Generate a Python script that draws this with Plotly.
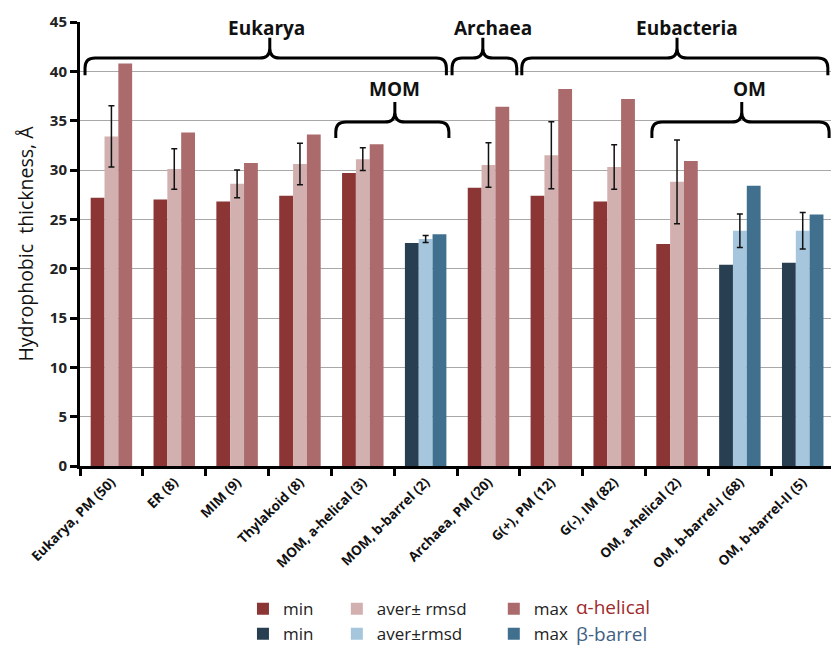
import plotly.graph_objects as go

categories = ["Eukarya, PM (50)", "ER (8)", "MIM (9)", "Thylakoid (8)", "MOM, a-helical (3)",
              "MOM, b-barrel (2)", "Archaea, PM (20)", "G(+), PM (12)", "G(-), IM (82)",
              "OM, a-helical (2)", "OM, b-barrel-I (68)", "OM, b-barrel-II (5)"]
fold = ["a", "a", "a", "a", "a", "b", "a", "a", "a", "a", "b", "b"]
min_vals = [27.2, 27.0, 26.8, 27.4, 29.7, 22.6, 28.2, 27.4, 26.8, 22.5, 20.4, 20.6]
aver_vals = [33.4, 30.1, 28.6, 30.6, 31.1, 23.0, 30.5, 31.5, 30.3, 28.8, 23.85, 23.85]
rmsd_vals = [3.1, 2.05, 1.4, 2.1, 1.15, 0.35, 2.25, 3.4, 2.25, 4.25, 1.7, 1.85]
max_vals = [40.8, 33.8, 30.7, 33.6, 32.6, 23.5, 36.4, 38.2, 37.2, 30.9, 28.4, 25.5]

# braces in category/value units
brace_labels = ["Eukarya", "Archaea", "Eubacteria", "MOM", "OM"]
brace_x0 = [-0.42, 5.42, 6.53, 3.57, 8.60]
brace_x1 = [5.33, 6.45, 11.40, 5.37, 11.42]
brace_xm = [2.52, 5.91, 9.00, 4.51, 10.03]
brace_lx = [2.47, 6.07, 9.16, 4.51, 10.15]
brace_line = [41.35, 41.35, 41.35, 34.86, 34.86]
brace_end = [39.6, 39.6, 39.6, 33.24, 33.24]
brace_cusp = [43.4, 43.4, 43.4, 36.9, 36.9]
brace_ly = [44.4, 44.4, 44.4, 38.2, 38.2]

colors = {
    "a": ["#8B3535", "#D2B0AF", "#AB6B6C"],
    "b": ["#283F52", "#A5C6DD", "#41708F"],
}
aver_names = {"a": "aver\u00b1 rmsd", "b": "aver\u00b1rmsd"}

XR = [-0.5, 11.45]
YR = [0, 45]

def px_(c):
    return (c - XR[0]) / (XR[1] - XR[0])

def py_(v):
    return (v - YR[0]) / (YR[1] - YR[0])

fig = go.Figure()
legend_ids = ["legend", "legend2", "legend3"]
for f in ["a", "b"]:
    mask = [t == f for t in fold]
    def sel(vals):
        return [v if m else None for v, m in zip(vals, mask)]
    fig.add_trace(go.Bar(x=categories, y=sel(min_vals), name="min", offsetgroup="min",
                         marker=dict(color=colors[f][0], line=dict(width=0)),
                         legend=legend_ids[0]))
    fig.add_trace(go.Bar(x=categories, y=sel(aver_vals), name=aver_names[f], offsetgroup="aver",
                         marker=dict(color=colors[f][1], line=dict(width=0)),
                         error_y=dict(type="data", array=sel(rmsd_vals), visible=True,
                                      color="#111111", thickness=1.5, width=3),
                         legend=legend_ids[1]))
    fig.add_trace(go.Bar(x=categories, y=sel(max_vals), name="max", offsetgroup="max",
                         marker=dict(color=colors[f][2], line=dict(width=0)),
                         legend=legend_ids[2]))

shapes = []
annotations = []
rx_c = 0.16
ry_v = 1.0
for lab, x0, x1, xm, lx, yl, ye, yc, ly in zip(brace_labels, brace_x0, brace_x1, brace_xm,
                                                 brace_lx, brace_line, brace_end, brace_cusp, brace_ly):
    X = lambda c: f"{px_(c):.5f}"
    Y = lambda v: f"{py_(v):.5f}"
    path = (f"M{X(x0)},{Y(ye)} L{X(x0)},{Y(yl - ry_v)} Q{X(x0)},{Y(yl)} {X(x0 + rx_c)},{Y(yl)} "
            f"L{X(xm - rx_c)},{Y(yl)} Q{X(xm)},{Y(yl)} {X(xm)},{Y(yl + ry_v)} L{X(xm)},{Y(yc)} "
            f"M{X(xm)},{Y(yl + ry_v)} Q{X(xm)},{Y(yl)} {X(xm + rx_c)},{Y(yl)} "
            f"L{X(x1 - rx_c)},{Y(yl)} Q{X(x1)},{Y(yl)} {X(x1)},{Y(yl - ry_v)} L{X(x1)},{Y(ye)}")
    shapes.append(dict(type="path", path=path, xref="paper", yref="paper",
                       line=dict(color="black", width=3)))
    annotations.append(dict(text=lab, x=px_(lx), y=py_(ly), xref="paper", yref="paper",
                            showarrow=False, xanchor="center", yanchor="middle",
                            font=dict(family="Open Sans", size=19, color="#111111", weight="bold")))

annotations.append(dict(text="\u03b1-helical", x=0.658, y=-0.318, xref="paper", yref="paper",
                        showarrow=False, xanchor="left", yanchor="middle",
                        font=dict(family="Open Sans", size=19, color="#9E2A2B")))
annotations.append(dict(text="\u03b2-barrel", x=0.658, y=-0.378, xref="paper", yref="paper",
                        showarrow=False, xanchor="left", yanchor="middle",
                        font=dict(family="Open Sans", size=19, color="#3F6185")))

leg_common = dict(orientation="v", yanchor="top", xanchor="left", bgcolor="rgba(0,0,0,0)",
                  font=dict(family="Open Sans", size=17, color="#222222"),
                  tracegroupgap=0, itemclick=False, itemdoubleclick=False)

fig.update_layout(
    width=831, height=646,
    margin=dict(l=80, r=0, t=22, b=180, autoexpand=False),
    paper_bgcolor="white", plot_bgcolor="white",
    barmode="group", bargap=0.34, bargroupgap=0,
    showlegend=True,
    legend=dict(x=0.217, y=-0.282, **leg_common),
    legend2=dict(x=0.342, y=-0.282, **leg_common),
    legend3=dict(x=0.551, y=-0.282, **leg_common),
    shapes=shapes,
    annotations=annotations,
    xaxis=dict(type="category", range=XR, tickson="boundaries", ticks="outside",
               ticklen=7, tickwidth=2.5, tickcolor="black", showline=True, linewidth=3,
               linecolor="black", showgrid=False, tickangle=-45,
               tickfont=dict(family="Open Sans", size=13.5, color="#111111", weight="bold")),
    yaxis=dict(range=YR, dtick=5, tick0=0, ticks="outside", ticklen=7, tickwidth=2.5,
               tickcolor="black", showline=True, linewidth=3, linecolor="black",
               showgrid=True, gridcolor="#A8A8A8", gridwidth=1, zeroline=False,
               tickfont=dict(family="Open Sans", size=15, color="#222222", weight="bold"),
               title=dict(text="Hydrophobic  thickness, \u00c5", standoff=12,
                          font=dict(family="Open Sans", size=19.5, color="#111111"))),
)

fig.write_html("out.html")
